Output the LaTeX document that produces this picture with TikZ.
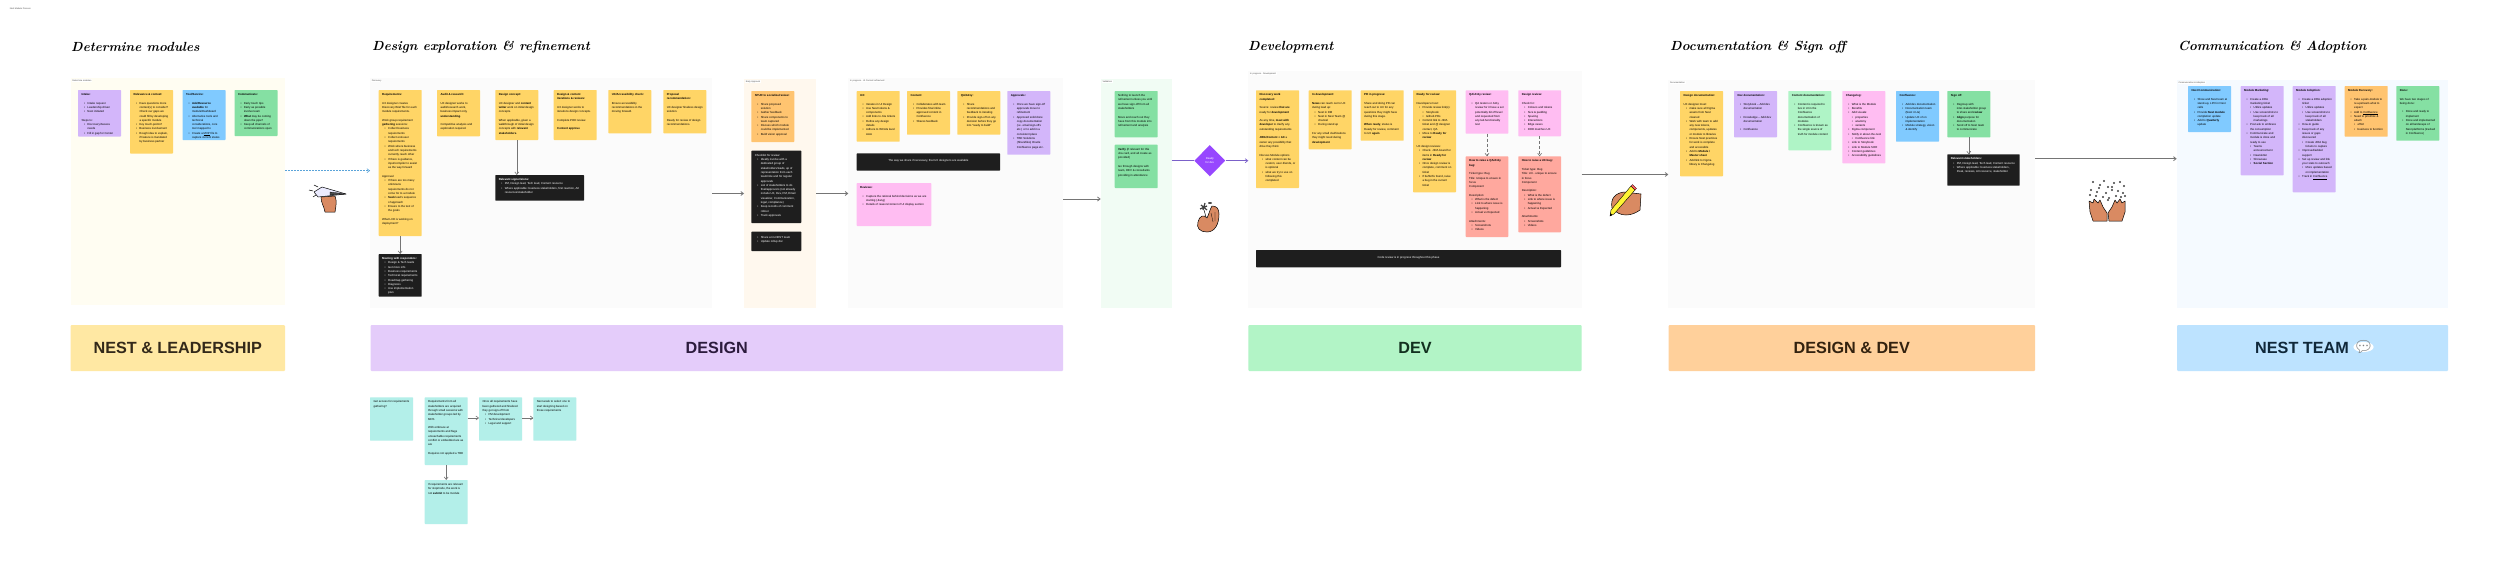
\documentclass[tikz,border=0pt]{standalone}
\usepackage{fontspec}
\setsansfont{Liberation Sans}
\newfontfamily\emojifont{Noto Emoji}
\usetikzlibrary{arrows.meta, positioning, shapes.geometric}
\definecolor{cyellow}{HTML}{FFD566}
\definecolor{cpurple}{HTML}{D3B6FA}
\definecolor{cblue}{HTML}{80CAFF}
\definecolor{cgreen}{HTML}{85E0A3}
\definecolor{cmint}{HTML}{AFF4C6}
\definecolor{cpink}{HTML}{FFBDF2}
\definecolor{cred}{HTML}{FFA89E}
\definecolor{corange}{HTML}{FFC470}
\definecolor{cteal}{HTML}{B3EFE9}
\definecolor{cblack}{HTML}{1E1E1E}
\definecolor{cgrey}{HTML}{757575}
\definecolor{cviolet}{HTML}{9747FF}
\definecolor{cline}{HTML}{7B61C9}
\definecolor{cdash}{HTML}{5BA4D9}
\definecolor{chand}{HTML}{D98A62}
\newcommand{\stk}[3][36]{\parbox[t][\dimexpr#2pt-7pt\relax][t]{#1pt}{\raggedright #3}}
\newcommand{\hd}[1]{\textbf{#1}\par}
\newcommand{\gap}{\par\vspace{4.3pt}}
\newcommand{\itm}[1]{\par\hangindent=6pt\hangafter=1\hspace*{2.5pt}\makebox[3.5pt][l]{•}#1\par}
\newcommand{\subitm}[1]{\par\hangindent=9.5pt\hangafter=1\hspace*{6pt}\makebox[3.5pt][l]{•}#1\par}
\tikzset{
  every picture/.style={font=\sffamily},
  frame/.style={fill=#1, anchor=north west, inner sep=0pt, outer sep=0pt},
  tag/.style={fill=white, anchor=north west, inner sep=0.6pt, font=\sffamily\fontsize{2.2}{2.6}\selectfont, text=black!70},
  heading/.style={anchor=west, inner sep=0pt, font=\rmfamily\bfseries\itshape\fontsize{13.2}{14}\selectfont},
  banner/.style={fill=#1, anchor=north west, inner sep=0pt, outer sep=0pt, rounded corners=1pt, font=\sffamily\bfseries\fontsize{16.2}{18}\selectfont},
  sticky/.style={fill=#1, anchor=north west, inner sep=3.5pt, outer sep=0pt, align=left, rounded corners=0.6pt, font=\sffamily\fontsize{2.85}{4.3}\selectfont},
  darkbox/.style={sticky=cblack, text=white},
  pipe/.style={-{Straight Barb[length=2.6pt,width=4pt]}, draw=cgrey, line width=0.8pt},
  link/.style={pipe, line width=0.6pt},
  icon/.style={draw=black, line width=0.5pt, fill=chand, line join=round},
}
\begin{document}
\begin{tikzpicture}[x=1pt, y=-1pt]
  \path[use as bounding box, fill=white] (0,0) rectangle (2500,562);
  \node[tag] (doc) at (9,7) {Nest Module Process};
  % frames
  \foreach \n/\x/\y/\w/\h/\c/\t in {
      fa/70.5/78/214.5/227/FFFDF2/Determine modules,
      fb/370/78/342/230/FBFBFB/Discovery,
      fc/744/79/72/229/FFF8EE/Early Approval,
      fd/848.3/78/215/230/FBFBFB/In progress - UI Content refinement,
      fe/1100.7/79/71/229/F1FCF4/Validation,
      ff/1248.3/71/333.4/237/FBFBFB/In progress - Development,
      fg/1668.3/80/366.7/228/FBFBFB/Documentation,
      fh/2176.7/80/271/228/F5FAFF/Communication \& Adoption} {
    \definecolor{tmpc}{HTML}{\c}
    \node[frame=tmpc, minimum width=\w pt, minimum height=\h pt] (\n) at (\x,\y) {};
    \node[tag] (\n tag) at (\x+1,\y+1) {\t};
  }
  % headings
  \foreach \n/\x/\t in {ha/71/Determine modules, hb/372/Design exploration \& refinement, hc/1248/Development,
      hd/1670/Documentation \& Sign off, he/2178/Communication \& Adoption}
    \node[heading] (\n) at (\x,47) {\t};
  % banners
  \foreach \n/\x/\w/\c/\d/\t in {
      ba/70.5/214.5/FFE8A3/33291A/NEST \& LEADERSHIP,
      bb/370.5/692.5/E4CCFA/2C1B3D/DESIGN,
      bc/1248.3/333.4/B2F4C6/12301F/DEV,
      bd/1668.5/366.5/FFD09B/33220F/DESIGN \& DEV,
      be/2177/271/BDE3FF/10283A/NEST TEAM\rule{21pt}{0pt}} {
    \definecolor{tmpc}{HTML}{\c}
    \definecolor{tmpd}{HTML}{\d}
    \node[banner=tmpc, text=tmpd, minimum width=\w pt, minimum height=46pt] (\n) at (\x,325) {\t};
  }
  \node[ellipse, fill=white, inner sep=-3pt, text=black!50, font=\emojifont\fontsize{16}{16}\selectfont] (bubble) at (2363.5,347) {\symbol{"1F4AC}};
  % determine modules
  \node[sticky=cpurple] (intake) at (78,90) {\stk{46.5}{\hd{Intake:}\gap
    \itm{Intake request}\itm{Leadership driven}\itm{Nest initiated}\gap
    Steps to:\itm{Discovery/Assess needs}\itm{Fill in gap for Center}}};
  \node[sticky=cyellow] (context) at (130,90) {\stk{63.5}{\hd{Relevance \& context:}\gap
    \itm{Have questions more context(s) to consider? Check our gaps we could fill by developing a specific module}
    \itm{Key touch-points?}\itm{Business involvement}\itm{Rough idea to explain, if feature is mandated by business partner}}};
  \node[sticky=cblue] (tools) at (182.5,90) {\stk{50}{\hd{Tool/Service:}\gap
    \itm{\textbf{Ask/Resource available} for module/Dashboard}\itm{Alternative tools and technical considerations, core tool mapped to}
    \itm{Create a \underline{MVP} file to capture current states}}};
  \node[sticky=cgreen] (comms) at (234.5,90) {\stk{46}{\hd{Communicate:}\gap
    \itm{Early touch tips}\itm{Early as possible involve team}\itm{\textbf{What} may be coming down the pipe?}\itm{Keep all channels of communications open}}};
  % discovery
  \node[sticky=cyellow] (reqs) at (378.7,90) {\stk{146}{\hd{Requirements:}\gap
    UX designer creates Discovery Brief file for each module requirements.\gap
    Work group requirement \textbf{gathering} sessions:
    \itm{Collect business requirements}\itm{Collect end-user requirements}
    \itm{Work where business and tech requirements currently reach other}
    \itm{If there is guidance, input/compiler to assist as the way forward}\gap
    Approval:
    \itm{If there are too many unknowns requirements do not come for to a module}
    \itm{\textbf{Seek} lead's sequence of approach}\itm{Ensure to the text of the goals}\gap
    What LXD is working on deployment?}};
  \node[sticky=cyellow] (audit) at (437,90) {\stk{46.3}{\hd{Audit \& research:}\gap
    UX designer works to audit/research work, business impact only, \textbf{understanding}.\gap
    Competitive analysis and exploration required.}};
  \node[sticky=cyellow] (concept) at (495.3,90) {\stk{50}{\hd{Design concept:}\gap
    UX designer and \textbf{content writer} work on initial design concepts.\gap
    When applicable, given a walkthrough of initial design concepts with \textbf{relevant stakeholders}.}};
  \node[sticky=cyellow] (reviews) at (553.7,90) {\stk{50}{\hd{Design \& content iterations \& reviews:}\gap
    UX designer works to iterations design concepts.\gap
    Complete POD review.\gap
    \textbf{Content approve}}};
  \node[sticky=cyellow] (access) at (608.3,90) {\stk{43.3}{\hd{UX/Accessibility check:}\gap
    Ensure accessibility recommendations in the moving forward.}};
  \node[sticky=cyellow] (proposal) at (663.3,90) {\stk{43.3}{\hd{Proposal recommendation:}\gap
    UX designer finalizes design solution.\gap
    Ready for review of design recommendations.}};
  \node[darkbox] (meeting) at (378.7,254) {\stk{42.7}{\hd{Meeting with responders:}
    \itm{Design \& Tech leads}\itm{Get more info}\itm{Business requirements}\itm{Technical requirements}
    \itm{Roadmap gathering}\itm{Diagnosis}\itm{Use implementation plan}}};
  \node[darkbox] (signers) at (495.3,175) {\stk[81.7]{25.7}{\hd{Relevant signer/s/ons:}
    \itm{PM, Design lead, Tech lead, Content resource}\itm{Where applicable: business stakeholders, first reaction, Art resources/stakeholder}}};
  % early approval
  \node[sticky=corange] (wip) at (751.3,91) {\stk{51}{\hd{SPUR to socialize/review:}\gap
    \itm{Share proposed solution}\itm{Gather feedback}\itm{Share components to team captured}
    \itm{Discuss which module could be implemented}\itm{Build vision approval}}};
  \node[darkbox] (people) at (751.3,150.7) {\stk[43]{72.3}{Checklist for review:
    \itm{Ideally involve with a dedicated group of stakeholders/leads, up of representation from each team/role and for regular approvals}
    \itm{List of stakeholders to do final/approvers (not already include UX, Dev, PM, Email visualizer, Communication, legal, compliance)}
    \itm{Keep records of comment rollout}\itm{Track approvals}}};
  \node[darkbox] (nest) at (751.3,231.7) {\stk[43]{19.3}{\vspace*{1pt}\itm{Share at in-NEST team}\itm{Update rollup doc}}};
  % refinement
  \node[sticky=cyellow] (uxdev) at (856.7,91) {\stk{50.7}{\hd{UX:}\gap
    \itm{Iterates in UI Design}\itm{Use Nest tokens \& components}\itm{Add links to Jira tickets}\itm{Refine any design details}\itm{Adhere to WCAG level AAA}}};
  \node[sticky=cyellow] (content) at (907,91) {\stk{43.7}{\hd{Content:}\gap
    \itm{Collaborates with team}\itm{Provides final inline approved content in Confluence}\itm{Shares feedback}}};
  \node[sticky=cyellow] (qa) at (957.3,91) {\stk{43.7}{\hd{QA/A11y:}\gap
    \itm{Share recommendations and feedback to iterating}\itm{Provide sign-off on any decision before they go into ``ready to build''}}};
  \node[sticky=cpurple] (appr) at (1007.3,91) {\stk{63.7}{\hd{Approvals:}\gap
    \itm{Once we have sign-off approvals move to refinement}\itm{Approved solid done copy documentation (i.e. email sign-offs etc.) or to add in a consistent place}
    \itm{TBD Solutions (Sharefiles) Oracle Confluence page etc.}}};
  \node[darkbox] (devbar) at (856.7,153.3) {\stk[136.3]{17.4}{\centering\vspace*{3pt} The way we share if necessary, that UX designers are available}};
  \node[sticky=cpink] (refs) at (856.7,183) {\stk[67.6]{43}{\hd{Reviews:}\gap
    \itm{Capture the rational behind decisions as we are starting (Jiang)}\itm{Details of reason/context of UI display section}}};
  % validation
  \node[sticky=cgreen] (valid) at (1114.7,91) {\stk{46.3}{Nothing to launch the refinement unless you until we have sign-off from all stakeholders\gap
    Move and reach out they have from this module into refinement and analysis}};
  \node[sticky=cgreen] (verify) at (1114.7,144.7) {\stk{43.3}{\textbf{Verify} (if relevant for this Jira card, and all create as provided)\gap
    Go through designs with team, DEV \& consultants providing in attendance}};
  \node[diamond, fill=cviolet, aspect=1, inner sep=0pt, minimum width=31pt, minimum height=31.4pt, align=center, text=white, font=\sffamily\fontsize{2.8}{4}\selectfont] (gate) at (1209.8,160.7) {Ready\\for dev};
  % development
  \node[sticky=cyellow] (backlog) at (1256,90.3) {\stk{97.7}{\hd{Discovery work completed:}\gap
    Source: review \textbf{that are} ready for \textbf{development}\gap
    As any time, \textbf{meet with developer} to clarify any outstanding requirements\gap
    \textbf{JIRA/Content + AX} a owner any possibility that drive they think\gap
    Discuss Module options
    \itm{what content can be custom, user-friends, or is optional}\itm{what we try to use on following this completed}}};
  \node[sticky=cyellow] (indev) at (1308.7,90.3) {\stk{59}{\hd{In development:}\gap
    \textbf{News} can reach out to UX during lead up:
    \itm{Nest in DM}\itm{Nest in Nest Team @ channel}\itm{During stand up}\gap
    For any small clarifications they might need during \textbf{development}}};
  \node[sticky=cyellow] (pr) at (1360.7,90.3) {\stk{50.4}{\hd{PR in progress:}\gap
    Share and doing PR can reach out to UX for any questions they might have during this stage.\gap
    \textbf{When ready}, status is Ready for review, comment to UX \textbf{again}}};
  \node[sticky=cyellow] (rfr) at (1413,90.3) {\stk{102}{\hd{Ready for review:}\gap
    Developers must:
    \itm{Provide review link(s):}\subitm{Storybook}\subitm{Github PRs}
    \itm{Commit link to JIRA ticket and @ designer contact, QA}\itm{Move to \textbf{Ready for review}}\gap
    UX design reviews:
    \itm{Check. JIRA board for items in \textbf{Ready for review}}\itm{Once design review is complete, comment on ticket}\itm{If bufferfix found, raise a bug in the current ticket}}};
  \node[sticky=cpink] (qapass) at (1465.7,90.3) {\stk[35.6]{43.4}{\hd{QA/A11y review:}\gap
    \itm{QA testers or A11y review for it have a set potentially bit off level and requested from any lab functionality test}}};
  \node[sticky=cpink] (dsreview) at (1518.3,90.3) {\stk[35.7]{46}{\hd{Design review:}\gap
    Check for:
    \itm{Colours and tokens}\itm{Size \& padding}\itm{Spacing}\itm{Interactions}\itm{Edge cases}\itm{DOD matches UX}}};
  \node[sticky=cred] (bugqa) at (1465.7,156.3) {\stk[35.6]{80.7}{\hd{How to raise a QA/A11y bug:}\gap
    Ticket type: Bug\par Title: Unique to ensure in focus\par Component\gap
    Description:\itm{What is the defect}\itm{Link to where issue is happening}\itm{Actual vs Expected}\gap
    Attachments:\itm{Screenshots}\itm{Videos}}};
  \node[sticky=cred] (bugux) at (1518.3,156.3) {\stk[35.7]{76}{\hd{How to raise a UX bug:}\gap
    Ticket type: Bug\par Title: UX - unique to ensure in focus\par Component\gap
    Description:\itm{What is the defect}\itm{Link to where issue is happening}\itm{Actual vs Expected}\gap
    Attachments:\itm{Screenshots}\itm{Videos}}};
  \node[darkbox] (codebar) at (1256,250) {\stk[298]{17.3}{\centering\vspace*{3pt} Code review is in progress throughout this phase}};
  % documentation
  \node[sticky=cyellow] (dsdocs) at (1680,91) {\stk{85.3}{\hd{Design documentation:}\gap
    UX designer must:
    \itm{make sure all Figma assets from Nest cleaned}\itm{Work with team to add any new tokens, components, updates or module to libraries}
    \itm{Ensure Nest practices for work is complete and accessible}\itm{Add to \textbf{Module / Master sheet}}\itm{Add link to Figma library \& Changelog}}};
  \node[sticky=cpurple] (devdocs) at (1734,91) {\stk{46.3}{\hd{Dev documentation:}\gap
    \itm{Storybook -- Add dev documentation}\gap\itm{Knowledge -- Add dev documentation}\gap\itm{Confluence}}};
  \node[sticky=cmint] (condocs) at (1788.3,91) {\stk{59.3}{\hd{Content documentation:}\gap
    \itm{Content is required to live in UI in the Confluence documentation of modules}\itm{Confluence is known as the single source of truth for module content}}};
  \node[sticky=cpink] (changelog) at (1842.3,91) {\stk{72.3}{\hd{Changelog:}\gap
    \itm{What is the Module}\itm{Benefits}\itm{Add visuals:}\subitm{properties}\subitm{anatomy}\subitm{variants}
    \itm{Figma component}\itm{Notify in about-the-nest}\subitm{Confluence link}\itm{Link to Storybook}\itm{Link to Module SOR}\itm{Content guidelines}\itm{Accessibility guidelines}}};
  \node[sticky=cblue] (conf) at (1896,91) {\stk{50.7}{\hd{Confluence:}\gap
    \itm{Add dev documentation}\itm{Documentation team (Nest 4 LG)}\itm{Update UX of on implementation}\itm{Module strategy, vision \& identify}}};
  \node[sticky=cgreen] (signoff) at (1947.3,91) {\stk{46.3}{\hd{Sign off:}\gap
    \itm{Regroup with inter-stakeholder group to share and \textbf{review}}\itm{\textbf{Align} purpose for documentation}\itm{Send off to Nest team to communicate}}};
  \node[darkbox] (signers2) at (1947.3,154.3) {\stk[65.4]{31.4}{\hd{Relevant stakeholders:}
    \itm{PM, Design lead, Tech lead, Content resource}\itm{Where applicable: business stakeholders, Peak, reviews, Art resource, stakeholder}}};
  % communication
  \node[sticky=cblue] (nestcom) at (2188,86) {\stk{46}{\hd{Nest Communication:}\gap
    \itm{Show and Nest team at stand-up, LPO in Nest calls}\itm{Provide \textbf{Nest module} completion update}\itm{Add to \textbf{Quarterly} update}}};
  \node[sticky=cpurple] (market) at (2240.7,86) {\stk{89.3}{\hd{Module Marketing:}\gap
    \itm{Create a JIRA marketing ticket}\subitm{Utilize updates}\subitm{Use screenshots to keep track of all marketings}
    \itm{Post ask to embrace the consumption}\itm{Communicate and module is done and ready to use}\subitm{Teams announcement}\subitm{Newsletter}\subitm{Showcase}\subitm{\textbf{Social Section}}}};
  \node[sticky=cpurple] (adopt) at (2292.7,86) {\stk{106.3}{\hd{Module Adoption:}\gap
    \itm{Create a JIRA adoption ticket}\subitm{Utilize updates}\subitm{Use screenshots to keep track of all stakeholders}
    \itm{How-to guide}\itm{Keep track of any issues or gaps discovered}\subitm{Create JIRA bug tickets to capture}\itm{Improved/added support}
    \itm{Set up review and link your stats to outreach}\subitm{More updates based on implementation}\itm{Track in \underline{Confluence}}}};
  \node[sticky=corange] (survey) at (2344.7,86) {\stk{50.7}{\hd{Module Recovery:}\gap
    \itm{Take a pain-module to re-upstream what to expect}\itm{Add to \underline{Confluence}}\itm{Need to prioritize \& attach}\subitm{effort}\subitm{business to function}}};
  \node[sticky=cgreen] (done) at (2396.3,86) {\stk{54.7}{\hd{Done:}\gap
    We have two stages of being done:\gap
    \itm{Done and ready to implement}\itm{Done and implemented on all landscape of Nest platforms (tracked in Confluence)}}};
  % requirements questions
  \node[sticky=cteal] (q1) at (370,397.3) {\stk{43.4}{Get access for requirements gathering?}};
  \node[sticky=cteal] (q2) at (424.7,397.3) {\stk{67.7}{Requirements from all stakeholders are acquired through small sessions with stakeholder groups led by MDS\gap
    With embrace at requirements and flags unreachable requirements conflict or embedded are as are\gap
    Requires not applied a TBD}};
  \node[sticky=cteal] (q3) at (479,397.3) {\stk{43.4}{Once all requirements have been gathered and finalized they get sign-off from
    \itm{PM development}\itm{Technical developers}\itm{Legal and support}}};
  \node[sticky=cteal] (q4) at (533.3,397.3) {\stk{43.4}{Next week to select one to start designing based on those requirements}};
  \node[sticky=cteal] (q5) at (424.7,480) {\stk{44}{If requirements are relevant for stopmode, the work is not \textbf{submit} to be module}};
  % connectors
  \draw[pipe, draw=cdash, dash pattern=on 2pt off 1pt, line width=0.6pt] (fa.east |- 0,170.7) -- (fb.west |- 0,170.7);
  \draw[pipe] (fb.east |- 0,193.5) -- (fc.west |- 0,193.5);
  \draw[pipe] (fc.east |- 0,193.5) -- (fd.west |- 0,193.5);
  \draw[pipe] (fd.east |- 0,199) -- (fe.west |- 0,199);
  \draw[draw=cline, line width=0.7pt] (fe.east |- gate.west) -- (gate.west);
  \draw[pipe, draw=cline, line width=0.7pt] (gate.east) -- (ff.west |- gate.east);
  \draw[pipe] (ff.east |- 0,174.5) -- (fg.west |- 0,174.5);
  \draw[pipe] (fg.east |- 0,158.7) -- (fh.west |- 0,158.7);
  \draw[link] (reqs.south) -- (meeting.north);
  \draw[link] (concept.south) -- (concept.south |- signers.north);
  \draw[link, densely dashed] (qapass) -- (bugqa);
  \draw[link, densely dashed] (dsreview) -- (bugux);
  \draw[link] (signoff.south) -- (signoff.south |- signers2.north);
  \draw[link] (q2.east |- 0,418) -- (q3.west |- 0,418);
  \draw[link] (q3.east |- 0,418) -- (q4.west |- 0,418);
  \draw[link] (q2) -- (q5);
  % paper plane
  \draw[icon] (321,197) .. controls (321,203) and (324,206) .. (325,212) -- (335,212) .. controls (336,206) and (337,201) .. (335,196) -- cycle;
  \draw[icon, fill=blue!8] (314,192) -- (322,187) -- (346,194) -- (318,197) -- cycle;
  \draw[draw=black, fill=black!70, line width=0.3pt] (330,192) -- (346,194) -- (330,195) -- cycle;
  \draw[line width=0.5pt] (309,190) -- (313,191) (314,185) -- (318,187) (313,197) -- (316,195);
  % flower hand
  \draw[icon] (1198,222) .. controls (1196,228) and (1200,232) .. (1207,232) .. controls (1215,232) and (1219,224) .. (1219,214) .. controls (1219,208) and (1216,206) .. (1212,206) .. controls (1210,209) and (1209,214) .. (1207,218) .. controls (1204,214) and (1199,216) .. (1198,222) -- cycle;
  \draw[line width=0.3pt] (1211,213) -- (1213,222) (1215,212) -- (1215,221);
  \draw[line width=1.2pt, black!75] (1201,205) -- (1207,210) (1205,203) -- (1203,210) (1200,209) -- (1207,206);
  \draw[line width=0.5pt] (1204,210) -- (1206,217);
  \fill[black!70] (1210,203) ellipse (2pt and 1pt);
  % pen hand
  \draw[icon] (1612,208) .. controls (1610,198) and (1616,193) .. (1624,192) -- (1641,194) -- (1640,210) .. controls (1632,216) and (1620,218) .. (1612,208) -- cycle;
  \draw[draw=black, line width=0.4pt, fill=yellow!80] (1610,216) -- (1611,210) -- (1631,186) -- (1635,190) -- (1614,214) -- cycle;
  \fill[red!50!pink, draw=black, line width=0.3pt] (1631,186) -- (1632.5,184.5) -- (1636.5,188.5) -- (1635,190) -- cycle;
  \fill[black] (1610,216) -- (1610.4,213) -- (1612.4,215) -- cycle;
  % confetti hands
  \draw[icon] (2107,221) -- (2093,221) -- (2090,212) -- (2089,201) -- (2093,203) -- (2094,199) -- (2098,203) -- (2100,200) -- (2103,207) -- (2107,213) -- cycle;
  \draw[icon] (2109,221) -- (2122,221) -- (2125,212) -- (2125,201) -- (2122,203) -- (2120,199) -- (2117,203) -- (2115,200) -- (2112,207) -- (2108,213) -- cycle;
  \foreach \px/\py in {2093/182, 2100/185, 2104/181, 2108/187, 2114/183, 2120/182, 2124/186, 2091/190, 2097/192, 2106/193, 2112/190, 2118/191, 2123/193, 2090/195, 2096/196, 2103/197, 2109/198, 2116/196, 2121/197, 2125/196, 2099/188, 2112/187, 2108/200}
    \fill[black!75] (\px,\py) circle (1.1pt);
\end{tikzpicture}
\end{document}
